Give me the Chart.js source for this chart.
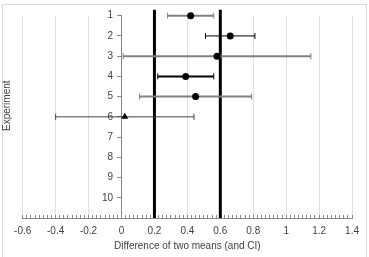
<!DOCTYPE html>
<html>
<head>
<meta charset="utf-8">
<script src="https://cdn.jsdelivr.net/npm/chart.js@4"></script>
<style>
  html, body { margin: 0; padding: 0; background: #fff; overflow: hidden; }
  #wrap { position: relative; width: 369px; height: 257px; }
  #frame { position: absolute; left: 2px; top: 4px; width: 363px; height: 260px;
           border: 1px solid #d9d9d9; border-bottom: none; }
  canvas { position: absolute; left: 0; top: 0; }
</style>
</head>
<body>
<div id="wrap">
  <div id="frame"></div>
  <canvas id="chart" width="369" height="257"></canvas>
</div>
<script>
// forest-plot data: one row per experiment
const experiments = [1, 2, 3, 4, 5, 6];
const means = [0.42, 0.66, 0.58, 0.39, 0.45, 0.02];
const lower = [0.28, 0.51, 0.01, 0.22, 0.11, -0.40];
const upper = [0.56, 0.81, 1.15, 0.56, 0.79, 0.44];
const yTickLabels = ["1", "2", "3", "4", "5", "6", "7", "8", "9", "10"];
const refLines = [0.2, 0.6];

// styling for each CI bar
const barColors = ["#808080", "#000000", "#808080", "#000000", "#808080", "#404040"];
const barWidths = [2, 1, 2, 2, 2, 1];
const markerStyles = ["circle", "circle", "circle", "circle", "circle", "triangle"];

const FONT = { family: "'Liberation Sans', Arial, sans-serif", size: 10 };
const TEXT = "#404040";
const AXIS = "#868686";

// ========== Datasets ==========
const datasets = [];

// CI bars with end caps
experiments.forEach((exp, i) => {
  datasets.push({
    type: "line",
    data: [{ x: lower[i], y: exp }, { x: upper[i], y: exp }],
    borderColor: barColors[i],
    borderWidth: barWidths[i],
    pointStyle: "line",
    pointRotation: 90,
    pointRadius: 3,
    pointBorderColor: barColors[i],
    pointBorderWidth: 1,
    pointHoverRadius: 0,
    clip: false,
    order: 2,
  });
});

// thick reference lines
refLines.forEach(v => {
  datasets.push({
    type: "line",
    data: [{ x: v, y: 0.7 }, { x: v, y: 11 }],
    borderColor: "#000",
    borderWidth: 3,
    pointRadius: 0,
    clip: false,
    order: 3,
  });
});

// mean markers
datasets.push({
  type: "scatter",
  data: experiments.map((exp, i) => ({ x: means[i], y: exp })),
  pointStyle: markerStyles,
  pointRadius: markerStyles.map(s => s === "triangle" ? 4 : 3.5),
  backgroundColor: "#000",
  borderColor: "#000",
  borderWidth: 0,
  order: 1,
  clip: false,
});

// ========== Chart ==========
new Chart(document.getElementById("chart"), {
  type: "scatter",
  data: { datasets },
  options: {
    responsive: false,
    animation: false,
    devicePixelRatio: 1,
    layout: { padding: { left: 1.5, right: 16.3, top: 15.7, bottom: 5 } },
    plugins: { legend: { display: false }, tooltip: { enabled: false } },
    scales: {
      x: {
        type: "linear",
        position: "bottom",
        min: -0.6,
        max: 1.4,
        afterBuildTicks: scale => {
          const ticks = [];
          for (let k = 0; k <= 80; k++) ticks.push({ value: -0.6 + k * 0.025 });
          scale.ticks = ticks;
        },
        afterFit: scale => { scale.height = 34; },
        ticks: {
          autoSkip: false,
          maxRotation: 0,
          padding: 10,
          color: TEXT,
          font: FONT,
          callback: v => {
            const k = Math.round((v + 0.6) / 0.025);
            return k % 8 === 0 ? String(Math.round(v * 10) / 10) : "";
          },
        },
        grid: {
          drawTicks: true,
          tickLength: -3,
          tickColor: AXIS,
          color: ctx => {
            const k = Math.round((ctx.tick.value + 0.6) / 0.025);
            return k % 8 === 0 ? "#e0e0e0" : "rgba(0,0,0,0)";
          },
        },
        border: { color: AXIS },
        title: {
          display: true,
          text: "Difference of two means (and CI)",
          color: TEXT,
          font: FONT,
          padding: { top: 0, bottom: 0 },
        },
      },
      y: {
        type: "linear",
        position: { x: 0 },
        reverse: true,
        min: 1,
        max: 11,
        ticks: {
          stepSize: 1,
          padding: 5,
          color: TEXT,
          font: FONT,
          // labels sit on the axis line when it is placed at x = 0, so pad them
          callback: v => yTickLabels[v - 1] ? yTickLabels[v - 1] + "   " : "",
        },
        grid: { drawOnChartArea: false, tickLength: 4, tickColor: AXIS },
        border: { color: AXIS },
      },
      y2: {
        type: "linear",
        position: "left",
        min: 0,
        max: 1,
        ticks: { display: false },
        grid: { display: false },
        border: { display: false },
        afterFit: scale => { scale.width = 21.2; },
        title: {
          display: true,
          text: "        Experiment",
          color: TEXT,
          font: FONT,
          padding: { top: 0, bottom: 0 },
        },
      },
    },
  },
});
</script>
</body>
</html>
